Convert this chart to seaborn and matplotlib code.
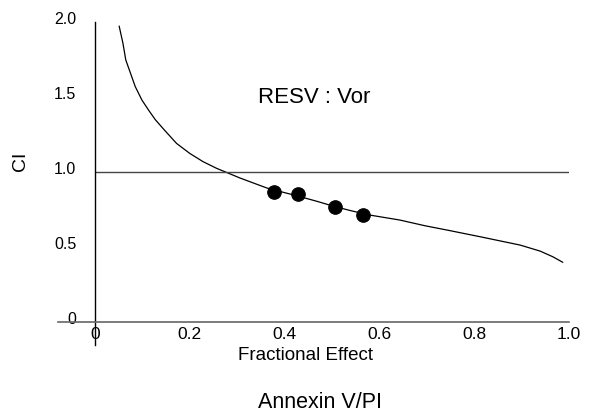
import numpy as np
import pandas as pd
import seaborn as sns
import matplotlib.pyplot as plt
import matplotlib.transforms as mtransforms

# Fa-CI 曲线
curve_fa = [0.051, 0.059, 0.065, 0.075, 0.085, 0.099, 0.113, 0.127, 0.145, 0.172,
            0.200, 0.228, 0.257, 0.274, 0.306, 0.363, 0.430, 0.468, 0.500, 0.540,
            0.580, 0.643, 0.696, 0.743, 0.812, 0.897, 0.939, 0.966, 0.987]
curve_ci = [1.973, 1.858, 1.747, 1.658, 1.569, 1.480, 1.413, 1.350, 1.285, 1.191,
            1.124, 1.069, 1.024, 1.002, 0.960, 0.893, 0.838, 0.805, 0.775, 0.742,
            0.713, 0.680, 0.642, 0.613, 0.569, 0.513, 0.473, 0.435, 0.398]

# 实验点
point_fa = [0.378, 0.428, 0.506, 0.566]
point_ci = [0.867, 0.853, 0.767, 0.713]

x_ticks = [0, 0.2, 0.4, 0.6, 0.8, 1.0]
x_ticklabels = ['0', '0.2', '0.4', '0.6', '0.8', '1.0']
y_ticks = [0, 0.5, 1.0, 1.5, 2.0]
y_ticklabels = ['0', '0.5', '1.0', '1.5', '2.0']

sns.set_style('white')
plt.rcParams['font.family'] = ['Liberation Sans', 'DejaVu Sans']
plt.rcParams['text.color'] = 'black'
plt.rcParams['axes.labelcolor'] = 'black'
plt.rcParams['xtick.labelcolor'] = 'black'
plt.rcParams['ytick.labelcolor'] = 'black'

curve = pd.DataFrame({'Fa': curve_fa, 'CI': curve_ci})
points = pd.DataFrame({'Fa': point_fa, 'CI': point_ci})

fig = plt.figure(figsize=(5.94, 4.18), dpi=100)
ax = fig.add_axes([58 / 594, (418 - 345) / 418, (569 - 58) / 594, (345 - 22) / 418])

sns.lineplot(data=curve, x='Fa', y='CI', color='black', linewidth=0.9, ax=ax)
ax.hlines(1.0, 0, 1.0, color='#444444', linewidth=1.0)
sns.scatterplot(data=points, x='Fa', y='CI', color='black', s=95, edgecolor='black', zorder=3, ax=ax)

ax.set_xlim(-0.078, 1.0)
ax.set_ylim(-0.153, 2.0)

for s in ['top', 'right']:
    ax.spines[s].set_visible(False)
ax.spines['left'].set_position(('data', 0))
ax.spines['bottom'].set_position(('data', 0))
ax.spines['left'].set_color('black')
ax.spines['left'].set_linewidth(1.0)
ax.spines['bottom'].set_color('#666666')
ax.spines['bottom'].set_linewidth(1.2)

ax.set_xticks(x_ticks)
ax.set_xticklabels(x_ticklabels)
ax.set_yticks(y_ticks)
ax.set_yticklabels(y_ticklabels)
ax.tick_params(axis='x', direction='out', length=6.5, width=0.7, color='#888888',
               pad=-3, labelsize=12.5, labelcolor='black')
ax.tick_params(axis='y', direction='out', length=8.5, width=1.0, color='#555555',
               pad=5, labelsize=11.5, labelcolor='black')

# y 刻度标签略微上移
offset = mtransforms.ScaledTranslation(0, 4 / 100, fig.dpi_scale_trans)
for lab in ax.get_yticklabels():
    lab.set_transform(lab.get_transform() + offset)

ax.set_xlabel('')
ax.set_ylabel('')
ax.text(0.445, -0.22, 'Fractional Effect', ha='center', va='center', fontsize=13.5, color='black')
ax.text(0.475, -0.533, 'Annexin V/PI', ha='center', va='center', fontsize=15.5, color='black')
ax.text(-0.158, 1.07, 'CI', rotation=90, ha='center', va='center', fontsize=14, color='black')
ax.text(0.344, 1.5, 'RESV : Vor', ha='left', va='center', fontsize=16, color='black')

plt.savefig('out.png', dpi=100)
